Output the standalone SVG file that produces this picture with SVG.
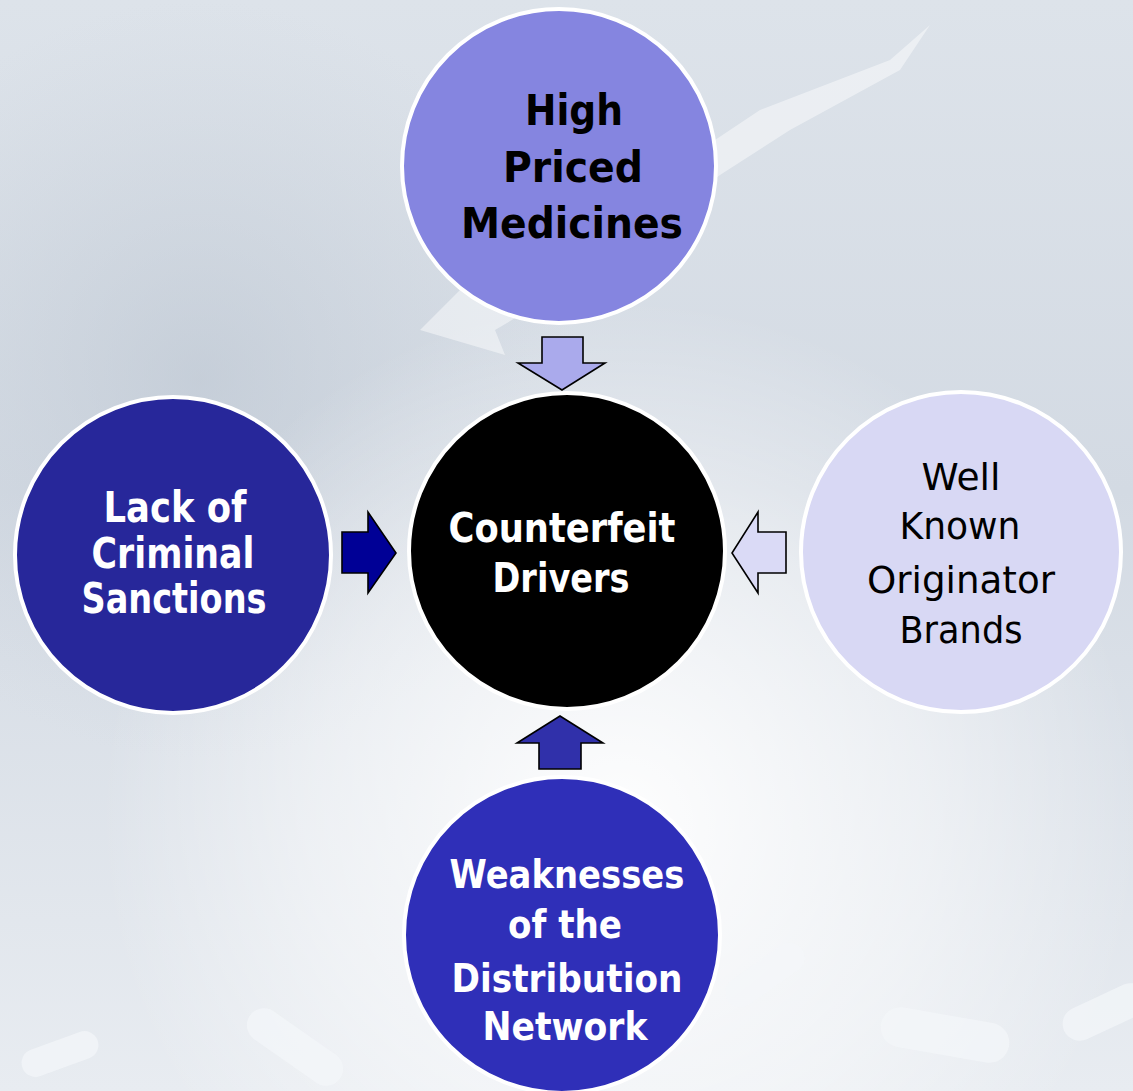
<svg xmlns="http://www.w3.org/2000/svg" width="1133" height="1091" viewBox="0 0 1133 1091">
  <defs>
    <linearGradient id="bg" x1="0" y1="0" x2="0" y2="1">
      <stop offset="0" stop-color="#dde3ea"/>
      <stop offset="0.45" stop-color="#d3dae3"/>
      <stop offset="1" stop-color="#e8ecf1"/>
    </linearGradient>
    <radialGradient id="glow" cx="620" cy="820" r="520" gradientUnits="userSpaceOnUse">
      <stop offset="0" stop-color="#ffffff" stop-opacity="0.95"/>
      <stop offset="0.6" stop-color="#ffffff" stop-opacity="0.45"/>
      <stop offset="1" stop-color="#ffffff" stop-opacity="0"/>
    </radialGradient>
    <radialGradient id="kb" cx="200" cy="380" r="380" gradientUnits="userSpaceOnUse">
      <stop offset="0" stop-color="#b9c3cf" stop-opacity="0.55"/>
      <stop offset="1" stop-color="#c6ced8" stop-opacity="0"/>
    </radialGradient>
    <style>
      .node circle { stroke: #ffffff; stroke-width: 4; }
      .arrow { stroke: #000000; stroke-width: 1.6; stroke-linejoin: miter; }
      text { text-anchor: middle; font-family: "DejaVu Sans", Verdana, sans-serif; }
      .b { font-weight: bold; font-size: 42px; }
      .r { font-weight: normal; font-size: 38px; }
      .w { fill: #ffffff; }
      .k { fill: #000000; }
      .pill { fill: #f4f6f9; opacity: 0.7; }
    </style>
  </defs>

  <!-- background -->
  <rect width="1133" height="1091" fill="url(#bg)"/>
  <rect width="1133" height="1091" fill="url(#kb)"/>
  <rect width="1133" height="1091" fill="url(#glow)"/>
  <polygon points="930,25 890,60 760,110 700,150 560,250 480,300 470,280 420,330 505,355 495,330 580,280 720,175 790,130 900,70" fill="#ffffff" opacity="0.45"/>
  <g>
    <rect class="pill" x="240" y="1030" width="110" height="34" rx="17" transform="rotate(35 295 1047)"/>
    <rect class="pill" x="880" y="1015" width="130" height="40" rx="20" transform="rotate(10 945 1035)"/>
    <rect class="pill" x="1060" y="995" width="90" height="34" rx="17" transform="rotate(-25 1105 1012)"/>
    <rect class="pill" x="720" y="960" width="90" height="30" rx="15" transform="rotate(-35 765 975)"/>
    <rect class="pill" x="20" y="1040" width="80" height="28" rx="14" transform="rotate(-20 60 1054)"/>
  </g>

  <!-- connectors -->
  <g id="connectors">
    <polygon class="arrow" fill="#aaaaec" points="542,337 583,337 583,363 605,363 562,390 518,363 542,363"/>
    <polygon class="arrow" fill="#000096" points="342,532 368,532 368,512 396,553 368,593 368,573 342,573"/>
    <polygon class="arrow" fill="#dadaf6" points="786,532 758,532 758,512 732,553 758,593 758,573 786,573"/>
    <polygon class="arrow" fill="#3030aa" points="539,769 581,769 581,743 603,743 560,716 517,743 539,743"/>
  </g>

  <!-- nodes -->
  <g id="node-high-priced" class="node">
    <circle cx="559" cy="166" r="157" fill="#8585e0"/>
    <text class="b k" x="574" y="125" textLength="98" lengthAdjust="spacingAndGlyphs">High</text>
    <text class="b k" x="573" y="182" textLength="140" lengthAdjust="spacingAndGlyphs">Priced</text>
    <text class="b k" x="572" y="238" textLength="222" lengthAdjust="spacingAndGlyphs">Medicines</text>
  </g>

  <g id="node-counterfeit" class="node">
    <circle cx="567" cy="551" r="158" fill="#000000"/>
    <text class="b w" style="font-size:40px" x="562" y="542" textLength="227" lengthAdjust="spacingAndGlyphs">Counterfeit</text>
    <text class="b w" style="font-size:40px" x="561" y="592" textLength="137" lengthAdjust="spacingAndGlyphs">Drivers</text>
  </g>

  <g id="node-criminal" class="node">
    <circle cx="173" cy="555" r="158" fill="#27279a"/>
    <text class="b w" x="175" y="522" textLength="143" lengthAdjust="spacingAndGlyphs">Lack of</text>
    <text class="b w" x="173" y="568" textLength="163" lengthAdjust="spacingAndGlyphs">Criminal</text>
    <text class="b w" x="174" y="613" textLength="185" lengthAdjust="spacingAndGlyphs">Sanctions</text>
  </g>

  <g id="node-brands" class="node">
    <circle cx="961" cy="552" r="160" fill="#d8d8f4"/>
    <text class="r k" x="961" y="490" textLength="79" lengthAdjust="spacingAndGlyphs">Well</text>
    <text class="r k" x="960" y="539" textLength="121" lengthAdjust="spacingAndGlyphs">Known</text>
    <text class="r k" x="961" y="593" textLength="188" lengthAdjust="spacingAndGlyphs">Originator</text>
    <text class="r k" x="961" y="643" textLength="123" lengthAdjust="spacingAndGlyphs">Brands</text>
  </g>

  <g id="node-distribution" class="node">
    <circle cx="562" cy="935" r="158" fill="#2f2fb8"/>
    <text class="b w" style="font-size:39px" x="567" y="888" textLength="235" lengthAdjust="spacingAndGlyphs">Weaknesses</text>
    <text class="b w" style="font-size:39px" x="565" y="938" textLength="114" lengthAdjust="spacingAndGlyphs">of the</text>
    <text class="b w" style="font-size:39px" x="567" y="992" textLength="231" lengthAdjust="spacingAndGlyphs">Distribution</text>
    <text class="b w" style="font-size:39px" x="565" y="1040" textLength="165" lengthAdjust="spacingAndGlyphs">Network</text>
  </g>
</svg>
